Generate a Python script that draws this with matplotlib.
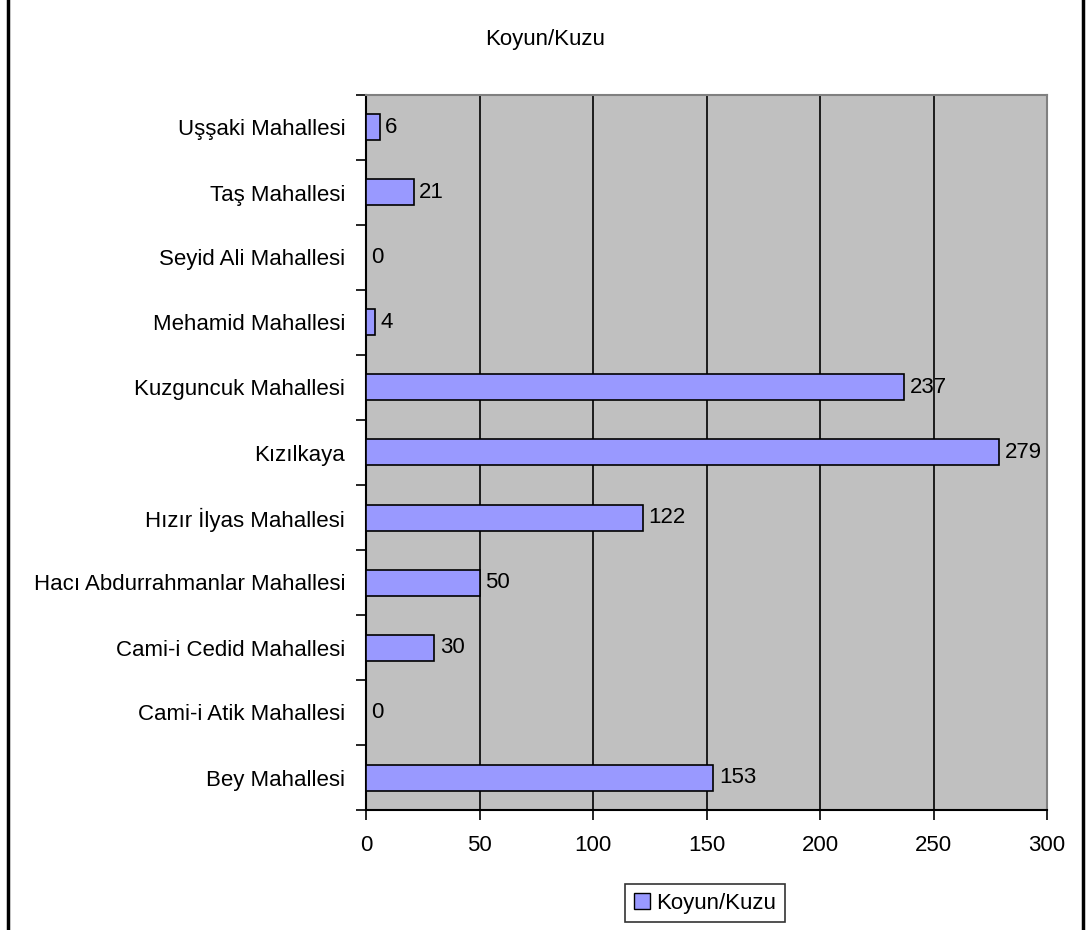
import matplotlib
matplotlib.use("Agg")
import matplotlib.pyplot as plt
from matplotlib.lines import Line2D
from matplotlib.patches import Patch
import numpy as np

plt.rcParams['font.family'] = ['Liberation Sans', 'DejaVu Sans']

# Data (bottom to top, as drawn)
categories = [
    "Bey Mahallesi",
    "Cami-i Atik Mahallesi",
    "Cami-i Cedid Mahallesi",
    "Hacı Abdurrahmanlar Mahallesi",
    "Hızır İlyas Mahallesi",
    "Kızılkaya",
    "Kuzguncuk Mahallesi",
    "Mehamid Mahallesi",
    "Seyid Ali Mahallesi",
    "Taş Mahallesi",
    "Uşşaki Mahallesi",
]
koyun_kuzu = [153, 0, 30, 50, 122, 279, 237, 4, 0, 21, 6]
x_ticks = [0, 50, 100, 150, 200, 250, 300]

series_name = "Koyun/Kuzu"
bar_color = "#9999FF"
fs = 16

fig = plt.figure(figsize=(10.86, 9.30), dpi=100, facecolor='white')
ax = fig.add_axes([366 / 1086, 1 - 810 / 930, (1047 - 366) / 1086, (810 - 95) / 930])
ax.set_facecolor('#C0C0C0')

y = np.arange(len(categories))
ax.barh(y, koyun_kuzu, height=0.4, color=bar_color,
        edgecolor='black', linewidth=1.2, zorder=3)

for yi, v in zip(y, koyun_kuzu):
    ax.annotate(str(v), (v, yi), xytext=(4, 0), textcoords='offset points',
                va='center', ha='left', fontsize=fs, zorder=4)

ax.set_xlim(0, 300)
ax.set_ylim(-0.5, len(categories) - 0.5)
ax.set_xticks(x_ticks)
ax.set_xticklabels([str(t) for t in x_ticks], fontsize=fs)
ax.tick_params(axis='x', direction='out', length=7, width=1.2, pad=11)

# category labels centered, tick marks on boundaries
ax.set_yticks(y)
ax.set_yticklabels(categories, fontsize=fs)
ax.tick_params(axis='y', which='major', length=0, pad=15)
ax.set_yticks(np.arange(-0.5, len(categories), 1), minor=True)
ax.tick_params(axis='y', which='minor', direction='out', length=7, width=1.2)

ax.grid(axis='x', color='black', linewidth=1.2, zorder=1)
ax.set_axisbelow(True)

for side in ('left', 'bottom'):
    ax.spines[side].set_color('black')
    ax.spines[side].set_linewidth(1.5)
for side in ('top', 'right'):
    ax.spines[side].set_color('#808080')
    ax.spines[side].set_linewidth(1.5)

fig.text(545 / 1086, 1 - 40 / 930, series_name, ha='center', va='center', fontsize=fs)

handle = Patch(facecolor=bar_color, edgecolor='black', linewidth=1.0)
leg = fig.legend([handle], [series_name], loc='center',
                 bbox_to_anchor=(705 / 1086, 1 - 903 / 930), fontsize=fs,
                 frameon=True, fancybox=False, handlelength=0.7, handleheight=0.7,
                 handletextpad=0.3, borderpad=0.4)
leg.get_frame().set_edgecolor('black')
leg.get_frame().set_linewidth(1.2)

# outer chart border (left and right edges)
fig.add_artist(Line2D([7.5 / 1086, 7.5 / 1086], [0, 1], color='black', linewidth=2.5,
                      transform=fig.transFigure))
fig.add_artist(Line2D([1083 / 1086, 1083 / 1086], [0, 1], color='black', linewidth=2.5,
                      transform=fig.transFigure))

fig.savefig("out.png", dpi=100, facecolor='white')
